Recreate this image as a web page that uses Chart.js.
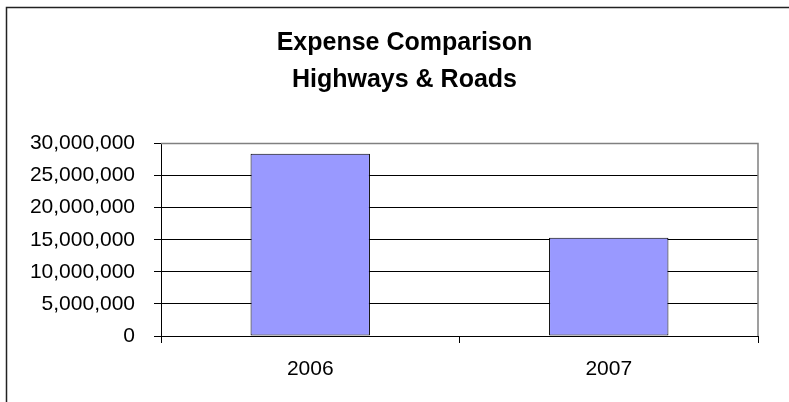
<!DOCTYPE html>
<html>
<head>
<meta charset="utf-8">
<script src="https://cdn.jsdelivr.net/npm/chart.js@4"></script>
<style>
  html, body { margin: 0; padding: 0; background: #fff; }
  #wrap { width: 789px; height: 402px; }
</style>
</head>
<body>
<div id="wrap"><canvas id="myChart" width="789" height="402"></canvas></div>
<script>
const years = ['2006', '2007'];
const expenses = [28400000, 15300000];
const titleLines = ['Expense Comparison', 'Highways & Roads'];
const yMin = 0;
const yMax = 30000000;
const yStep = 5000000;

// outer frame, grey plot-area edge, and title centred on the whole frame
const framePlugin = {
    id: 'frame',
    afterLayout(chart) {
        const t = chart.titleBlock;
        if (t) {
            t.left = 20;
            t.right = chart.width;
            t.width = t.right - t.left;
        }
    },
    beforeDraw(chart) {
        const c = chart.ctx;
        c.save();
        c.fillStyle = '#fff';
        c.fillRect(0, 0, chart.width, chart.height);
        c.strokeStyle = '#222';
        c.lineWidth = 1.5;
        c.beginPath();
        c.moveTo(6.5, chart.height + 5);
        c.lineTo(6.5, 7.5);
        c.lineTo(chart.width + 5, 7.5);
        c.stroke();
        c.restore();
    },
    beforeDatasetsDraw(chart) {
        const a = chart.chartArea;
        const c = chart.ctx;
        c.save();
        c.strokeStyle = '#808080';
        c.lineWidth = 1.5;
        c.beginPath();
        c.moveTo(a.left, a.top);
        c.lineTo(a.right, a.top);
        c.lineTo(a.right, a.bottom);
        c.stroke();
        c.restore();
    }
};

const ctx = document.getElementById('myChart').getContext('2d');
const myChart = new Chart(ctx, {
    type: 'bar',
    data: {
        labels: years,
        datasets: [{
            label: 'Expense',
            data: expenses,
            backgroundColor: '#9999FF',
            borderColor: '#000',
            borderWidth: 1,
            borderSkipped: false,
            categoryPercentage: 1,
            barPercentage: 0.4
        }]
    },
    options: {
        responsive: false,
        animation: false,
        devicePixelRatio: 1,
        layout: { padding: { left: 0, right: 31, top: 0, bottom: 20 } },
        plugins: {
            legend: { display: false },
            tooltip: { enabled: false },
            title: {
                display: true,
                text: titleLines,
                color: '#000',
                font: { family: 'Liberation Sans, Arial, sans-serif', size: 25, weight: 'bold', lineHeight: 1.5 },
                padding: { top: 24, bottom: 44.5 }
            }
        },
        scales: {
            x: {
                offset: true,
                grid: {
                    offset: true,
                    drawOnChartArea: false,
                    drawTicks: true,
                    tickLength: 7,
                    color: '#000'
                },
                border: { color: '#000', width: 1 },
                ticks: {
                    color: '#000',
                    padding: 14,
                    font: { family: 'Liberation Sans, Arial, sans-serif', size: 21 }
                },
                afterFit(s) { s.height = 46; }
            },
            y: {
                min: yMin,
                max: yMax,
                grid: {
                    color: '#000',
                    lineWidth: 1,
                    tickLength: 7
                },
                border: { color: '#000', width: 1 },
                ticks: {
                    stepSize: yStep,
                    color: '#000',
                    padding: 19,
                    font: { family: 'Liberation Sans, Arial, sans-serif', size: 21 },
                    callback: v => v.toLocaleString('en-US')
                },
                afterFit(s) { s.width = 161; }
            }
        }
    },
    plugins: [framePlugin]
});
</script>
</body>
</html>
